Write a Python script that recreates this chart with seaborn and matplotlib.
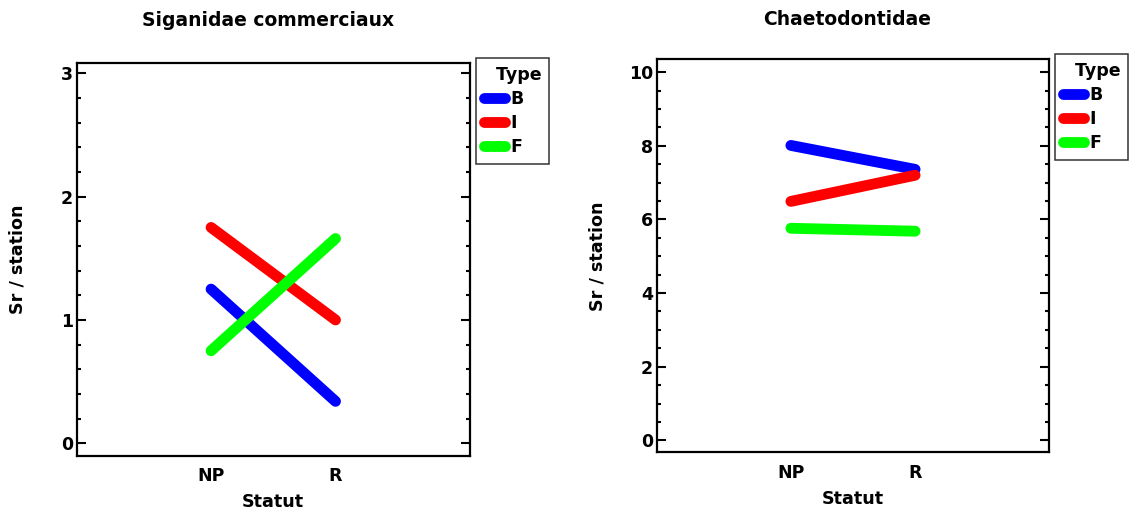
import matplotlib
matplotlib.use("Agg")
import matplotlib.pyplot as plt
import seaborn as sns
import pandas as pd
from matplotlib.ticker import MultipleLocator

sns.set_style("white")
plt.rcParams['font.family'] = ['DejaVu Sans']
plt.rcParams['font.weight'] = 'bold'
plt.rcParams['text.color'] = 'black'
plt.rcParams['axes.labelcolor'] = 'black'
plt.rcParams['xtick.color'] = 'black'
plt.rcParams['ytick.color'] = 'black'

statut = ["NP", "R"]
types = ["B", "I", "F"]
colors = ["#0000ff", "#ff0000", "#00ff00"]

sig_B = [1.25, 0.34]
sig_I = [1.75, 1.00]
sig_F = [0.75, 1.66]

cha_B = [8.01, 7.36]
cha_I = [6.49, 7.20]
cha_F = [5.76, 5.68]

def make_df(b, i, f):
    rows = []
    for t, vals in zip(types, [b, i, f]):
        for s, v in zip(statut, vals):
            rows.append({"Statut": s, "Sr": v, "Type": t})
    return pd.DataFrame(rows)

fig = plt.figure(figsize=(11.34, 5.15), dpi=100)
ax1 = fig.add_axes([0.0676, 0.1146, 0.3468, 0.7625])
ax2 = fig.add_axes([0.5791, 0.1214, 0.3462, 0.7635])

panels = [
    (ax1, make_df(sig_B, sig_I, sig_F), "Siganidae commerciaux", (-0.103, 3.081), 1, 0.2,
     0.487, 1.095, (1.0153, 1.0127)),
    (ax2, make_df(cha_B, cha_I, cha_F), "Chaetodontidae", (-0.33, 10.35), 2, 0.5,
     0.486, 1.087, (1.0145, 1.013)),
]

for ax, df, title, ylim, major, minor, tx, ty, lpos in panels:
    sns.lineplot(data=df, x="Statut", y="Sr", hue="Type", hue_order=types,
                 palette=colors, linewidth=7.8, solid_capstyle="round", ax=ax,
                 legend=True)
    ax.set_xlim(-1.08, 2.08)
    ax.set_ylim(*ylim)
    ax.yaxis.set_major_locator(MultipleLocator(major))
    ax.yaxis.set_minor_locator(MultipleLocator(minor))
    ax.tick_params(axis="y", which="major", direction="in", length=6.5, width=1.5,
                   left=True, right=True, labelsize=12.5, pad=2.7)
    ax.tick_params(axis="y", which="minor", direction="in", length=3.2, width=1.5,
                   left=True, right=True)
    ax.tick_params(axis="x", which="both", length=0, labelsize=12.5, pad=8)
    for lab in ax.get_xticklabels() + ax.get_yticklabels():
        lab.set_fontweight("bold")
    for sp in ax.spines.values():
        sp.set_visible(True)
        sp.set_color("black")
        sp.set_linewidth(1.6)
    ax.set_xlabel("Statut", fontsize=12.6, fontweight="bold")
    ax.set_ylabel("Sr / station", fontsize=12.6, fontweight="bold")
    ax.xaxis.set_label_coords(0.5, -0.095)
    ax.yaxis.set_label_coords(-0.127, 0.5)
    ax.text(tx, ty, title, transform=ax.transAxes, ha="center", va="baseline",
            fontsize=13.5, fontweight="bold")
    handles, labels = ax.get_legend_handles_labels()
    leg = ax.legend(handles, labels, title="  Type", loc="upper left",
                    bbox_to_anchor=lpos, borderaxespad=0,
                    fontsize=12.5, title_fontsize=12.5, frameon=True, fancybox=False,
                    handlelength=1.2, handletextpad=0.35, labelspacing=0.35,
                    borderpad=0.45)
    leg.get_frame().set_edgecolor("black")
    leg.get_frame().set_linewidth(1.1)
    leg._legend_box.align = "left"
    leg.get_title().set_fontweight("bold")
    for t in leg.get_texts():
        t.set_fontweight("bold")
    for h in leg.legend_handles:
        h.set_linewidth(7.8)
        h.set_solid_capstyle("round")

fig.savefig("out.png", dpi=100)
